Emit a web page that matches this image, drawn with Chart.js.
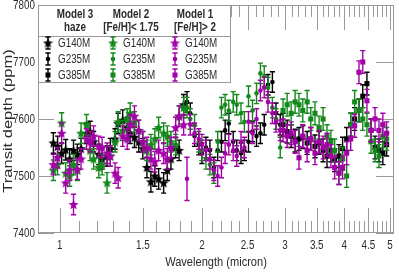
<!DOCTYPE html>
<html>
<head>
<meta charset="utf-8">
<title>Transit depth</title>
<script src="https://cdn.jsdelivr.net/npm/chart.js@4.4.1/dist/chart.umd.min.js"></script>
<style>
  html, body { margin: 0; padding: 0; background: #fff; }
  canvas { display: block; }
</style>
</head>
<body>
<canvas id="chart" width="399" height="273"></canvas>
<script>
// Longitudes de onda (micron) por red
const wlG140M = [0.97, 0.99, 1.01, 1.03, 1.05, 1.07, 1.09, 1.11, 1.14, 1.16, 1.18, 1.21, 1.23, 1.26, 1.28, 1.31, 1.33,
    1.36, 1.39, 1.41, 1.44, 1.47, 1.50, 1.53, 1.56, 1.59, 1.62, 1.66, 1.69, 1.72, 1.76, 1.79, 1.83];
const wlG235M = [1.86, 1.89, 1.93, 1.97, 2.00, 2.04, 2.08, 2.12, 2.16, 2.20, 2.24, 2.28, 2.33, 2.37, 2.42, 2.46, 2.51,
    2.56, 2.61, 2.66, 2.71, 2.76, 2.82, 2.87, 2.93];
const wlG385M = [2.97, 3.03, 3.09, 3.15, 3.21, 3.27, 3.34, 3.40, 3.47, 3.54, 3.61, 3.68, 3.75, 3.82, 3.90, 3.97, 4.05,
    4.13, 4.21, 4.30, 4.38, 4.47, 4.56, 4.65, 4.74, 4.83, 4.92];

// Model 3 (haze) - negro
const m3G140M = [7558, 7552, 7540, 7546, 7530, 7545, 7538, 7548, 7575, 7578, 7560, 7538, 7530, 7535, 7548, 7565, 7592,
    7598, 7585, 7575, 7568, 7560, 7548, 7515, 7490, 7500, 7495, 7488, 7510, 7530, 7550, 7545, 7625];
const m3G235M = [7630, 7610, 7570, 7555, 7540, 7550, 7545, 7515, 7545, 7560, 7580, 7592, 7560, 7545, 7540, 7545, 7560,
    7578, 7570, 7575, 7590, 7660, 7665, 7610, 7590];
const m3G385M = [7590, 7578, 7570, 7562, 7565, 7568, 7558, 7565, 7552, 7558, 7545, 7535, 7545, 7528, 7535, 7548, 7565,
    7590, 7600, 7615, 7640, 7662, 7580, 7550, 7545, 7540, 7555];

// Model 2 ([Fe/H] < 1.75) - verde
const m2G140M = [7510, 7520, 7593, 7505, 7500, 7520, 7510, 7575, 7590, 7545, 7530, 7515, 7520, 7488, 7535, 7560, 7595,
    7580, 7600, 7610, 7595, 7580, 7560, 7545, 7555, 7565, 7585, 7575, 7570, 7560, 7555, 7605, 7620];
const m2G235M = [7620, 7600, 7590, 7560, 7545, 7530, 7520, 7505, 7560, 7620, 7625, 7615, 7630, 7625, 7610, 7595, 7640,
    7615, 7645, 7680, 7675, 7655, 7620, 7600, 7550];
const m2G385M = [7615, 7625, 7610, 7630, 7625, 7615, 7630, 7600, 7610, 7585, 7600, 7570, 7560, 7545, 7505, 7530, 7500,
    7590, 7630, 7615, 7600, 7590, 7560, 7545, 7535, 7570, 7565];

// Model 1 ([Fe/H] > 2) - magenta
const m1G140M = [7520, 7532, 7575, 7488, 7510, 7450, 7512, 7530, 7565, 7560, 7570, 7552, 7550, 7540, 7535, 7505, 7497,
    7570, 7565, 7590, 7605, 7580, 7560, 7550, 7530, 7525, 7545, 7540, 7530, 7550, 7585, 7605, 7590];
const m1G235M = [7495, 7590, 7575, 7565, 7555, 7545, 7530, 7510, 7500, 7515, 7540, 7555, 7545, 7535, 7560, 7550, 7595,
    7575, 7600, 7650, 7655, 7630, 7610, 7595, 7580];
const m1G385M = [7580, 7570, 7575, 7560, 7532, 7570, 7545, 7565, 7540, 7560, 7550, 7555, 7535, 7515, 7505, 7515, 7540,
    7565, 7588, 7682, 7700, 7632, 7580, 7600, 7580, 7590, 7575];

// Barras de error (ppm)
const errG140M = 18;
const errG235M = 18;
const errG385M = 20;
const m1G235MFirstErr = 38; // punto aislado con barra grande

// Textos
const modelNames = ['Model 3', 'Model 2', 'Model 1'];
const modelNotes = ['haze', '[Fe/H]< 1.75', '[Fe/H]> 2'];
const gratings = ['G140M', 'G235M', 'G385M'];
const xMajorTicks = [1, 1.5, 2, 2.5, 3, 3.5, 4, 4.5, 5];
const xTickLabels = ['1', '1.5', '2', '2.5', '3', '3.5', '4', '4.5', '5'];
const xMinorTicks = [1.1, 1.2, 1.3, 1.4, 1.6, 1.7, 1.8, 1.9, 2.1, 2.2, 2.3, 2.4, 2.6, 2.7, 2.8, 2.9,
    3.1, 3.2, 3.3, 3.4, 3.6, 3.7, 3.8, 3.9, 4.1, 4.2, 4.3, 4.4, 4.6, 4.7, 4.8, 4.9];
const yTicks = [7400, 7500, 7600, 7700, 7800];

const colors = {
    m3: '#000000',
    m2: '#12891a',
    m1: '#a400a8'
};
const axisGray = '#9a9a9a';
const textColor = '#2b2b2b';
const FONT = '"Liberation Sans", Arial, sans-serif';

// Estrella rellena de 5 puntas como imagen de punto
function starImage(color) {
    const c = document.createElement('canvas');
    c.width = 11;
    c.height = 11;
    const g = c.getContext('2d');
    g.beginPath();
    for (let i = 0; i < 10; i++) {
        const r = i % 2 === 0 ? 5.3 : 2.3;
        const a = -Math.PI / 2 + i * Math.PI / 5;
        g.lineTo(5.5 + r * Math.cos(a), 5.9 + r * Math.sin(a));
    }
    g.closePath();
    g.fillStyle = color;
    g.fill();
    return c;
}

function buildSeries(wl, vals, err, color, marker, firstErr) {
    const style = {
        star: { pointStyle: starImage(color), pointRadius: 5 },
        dot: { pointStyle: 'circle', pointRadius: 2.3 },
        square: { pointStyle: 'rect', pointRadius: 3.6 }
    }[marker];
    return {
        data: wl.map((x, i) => ({ x: x, y: vals[i], err: (i === 0 && firstErr) ? firstErr : err })),
        borderColor: color,
        backgroundColor: color,
        pointBorderWidth: 0,
        pointStyle: style.pointStyle,
        pointRadius: style.pointRadius,
        pointHoverRadius: style.pointRadius,
        showLine: false
    };
}

// Magenta primero: Chart.js dibuja el primer dataset encima
const datasets = [
    buildSeries(wlG140M, m1G140M, errG140M, colors.m1, 'star'),
    buildSeries(wlG235M, m1G235M, errG235M, colors.m1, 'dot', m1G235MFirstErr),
    buildSeries(wlG385M, m1G385M, errG385M, colors.m1, 'square'),
    buildSeries(wlG140M, m2G140M, errG140M, colors.m2, 'star'),
    buildSeries(wlG235M, m2G235M, errG235M, colors.m2, 'dot'),
    buildSeries(wlG385M, m2G385M, errG385M, colors.m2, 'square'),
    buildSeries(wlG140M, m3G140M, errG140M, colors.m3, 'star'),
    buildSeries(wlG235M, m3G235M, errG235M, colors.m3, 'dot'),
    buildSeries(wlG385M, m3G385M, errG385M, colors.m3, 'square')
];

// Texto estrecho (escala horizontal)
function drawText(ctx, text, x, y, size, weight, align, sx) {
    ctx.save();
    ctx.translate(x, y);
    ctx.scale(sx, 1);
    ctx.font = weight + ' ' + size + 'px ' + FONT;
    ctx.textAlign = align;
    ctx.textBaseline = 'middle';
    ctx.fillStyle = textColor;
    ctx.fillText(text, 0, 0);
    ctx.restore();
}

function drawErrorBar(ctx, x, top, bottom, color) {
    ctx.strokeStyle = color;
    ctx.lineWidth = 1.4;
    ctx.beginPath();
    ctx.moveTo(x, top);
    ctx.lineTo(x, bottom);
    ctx.moveTo(x - 2.6, top);
    ctx.lineTo(x + 2.6, top);
    ctx.moveTo(x - 2.6, bottom);
    ctx.lineTo(x + 2.6, bottom);
    ctx.stroke();
}

// Barras de error justo antes de cada dataset
const errorBars = {
    id: 'errorBars',
    beforeDatasetDraw(chart, args) {
        const ds = chart.data.datasets[args.index];
        const ys = chart.scales.y;
        const ctx = chart.ctx;
        ctx.save();
        args.meta.data.forEach((pt, i) => {
            const d = ds.data[i];
            drawErrorBar(ctx, pt.x, ys.getPixelForValue(d.y + d.err), ys.getPixelForValue(d.y - d.err), ds.borderColor);
        });
        ctx.restore();
    }
};

// Marco, ticks hacia dentro y etiquetas
const axesFrame = {
    id: 'axesFrame',
    beforeDatasetsDraw(chart) {
        const { ctx, chartArea: a, scales: { x, y } } = chart;
        ctx.save();
        ctx.strokeStyle = axisGray;
        ctx.lineWidth = 1;
        ctx.strokeRect(a.left + 0.5, a.top + 0.5, a.right - a.left - 1, a.bottom - a.top - 1);
        ctx.beginPath();
        xMinorTicks.forEach(v => {
            const px = Math.round(x.getPixelForValue(v)) + 0.5;
            ctx.moveTo(px, a.bottom);
            ctx.lineTo(px, a.bottom - 12);
            ctx.moveTo(px, a.top);
            ctx.lineTo(px, a.top + 12);
        });
        xMajorTicks.forEach(v => {
            const px = Math.round(x.getPixelForValue(v)) + 0.5;
            ctx.moveTo(px, a.bottom);
            ctx.lineTo(px, a.bottom - 25);
            ctx.moveTo(px, a.top);
            ctx.lineTo(px, a.top + 25);
        });
        yTicks.forEach(v => {
            const py = Math.round(y.getPixelForValue(v)) + 0.5;
            ctx.moveTo(a.left, py);
            ctx.lineTo(a.left + 16, py);
            ctx.moveTo(a.right, py);
            ctx.lineTo(a.right - 18, py);
        });
        ctx.stroke();

        xMajorTicks.forEach((v, i) => {
            drawText(ctx, xTickLabels[i], x.getPixelForValue(v), a.bottom + 13, 12, 'normal', 'center', 0.82);
        });
        yTicks.forEach(v => {
            drawText(ctx, String(v), a.left - 3, y.getPixelForValue(v) + 1, 12, 'normal', 'right', 0.82);
        });
        drawText(ctx, 'Wavelength (micron)', (a.left + a.right) / 2, a.bottom + 29, 13.5, 'normal', 'center', 0.82);

        // Título vertical
        ctx.save();
        ctx.translate(8, (a.top + a.bottom) / 2 + 2);
        ctx.rotate(-Math.PI / 2);
        ctx.scale(1, 0.82);
        ctx.font = 'normal 16.5px ' + FONT;
        ctx.textAlign = 'center';
        ctx.textBaseline = 'middle';
        ctx.fillStyle = textColor;
        ctx.fillText('Transit depth (ppm)', 0, 0);
        ctx.restore();
        ctx.restore();
    }
};

function drawMarker(ctx, kind, x, y, color) {
    ctx.fillStyle = color;
    if (kind === 0) {
        const img = starImage(color);
        ctx.drawImage(img, x - img.width / 2, y - img.height / 2);
    } else if (kind === 1) {
        ctx.beginPath();
        ctx.arc(x, y, 2.3, 0, Math.PI * 2);
        ctx.fill();
    } else {
        ctx.fillRect(x - 2.5, y - 2.5, 5, 5);
    }
}

// Leyenda en forma de tabla
const tableLegend = {
    id: 'tableLegend',
    afterDraw(chart) {
        const ctx = chart.ctx;
        const a = chart.chartArea;
        const L = a.left, T = a.top, R = 230, B = 82;
        const colCenters = [75, 131, 195];
        const markX = [48, 113, 175];
        const rowY = [43, 59, 75];
        const colColors = [colors.m3, colors.m2, colors.m1];
        ctx.save();
        ctx.fillStyle = '#fff';
        ctx.fillRect(L + 1, T + 1, R - L - 1, B - T - 1);
        ctx.strokeStyle = axisGray;
        ctx.lineWidth = 1;
        ctx.strokeRect(L + 0.5, T + 0.5, R - L, B - T);
        ctx.beginPath();
        ctx.moveTo(L, 36.5);
        ctx.lineTo(R, 36.5);
        ctx.stroke();

        modelNames.forEach((name, c) => {
            drawText(ctx, name, colCenters[c], 15, 12, 'bold', 'center', 0.82);
            drawText(ctx, modelNotes[c], colCenters[c], 28, 12, 'bold', 'center', 0.82);
            gratings.forEach((g, r) => {
                drawErrorBar(ctx, markX[c], rowY[r] - 6, rowY[r] + 6, colColors[c]);
                drawMarker(ctx, r, markX[c], rowY[r], colColors[c]);
                drawText(ctx, g, markX[c] + 10, rowY[r] + 1, 12, 'normal', 'left', 0.82);
            });
        });
        ctx.restore();
    }
};

new Chart(document.getElementById('chart'), {
    type: 'scatter',
    data: { datasets: datasets },
    options: {
        responsive: false,
        animation: false,
        events: [],
        layout: { padding: { top: 5, right: 1, left: 0, bottom: 0 } },
        plugins: {
            legend: { display: false },
            tooltip: { enabled: false }
        },
        scales: {
            x: {
                type: 'logarithmic',
                min: 0.9,
                max: 5.1,
                grid: { display: false },
                border: { display: false },
                ticks: { display: false },
                afterFit: function(scale) { scale.height = 40; }
            },
            y: {
                type: 'linear',
                min: 7400,
                max: 7800,
                grid: { display: false },
                border: { display: false },
                ticks: { display: false },
                afterFit: function(scale) { scale.width = 38; }
            }
        }
    },
    plugins: [axesFrame, errorBars, tableLegend]
});
</script>
</body>
</html>
